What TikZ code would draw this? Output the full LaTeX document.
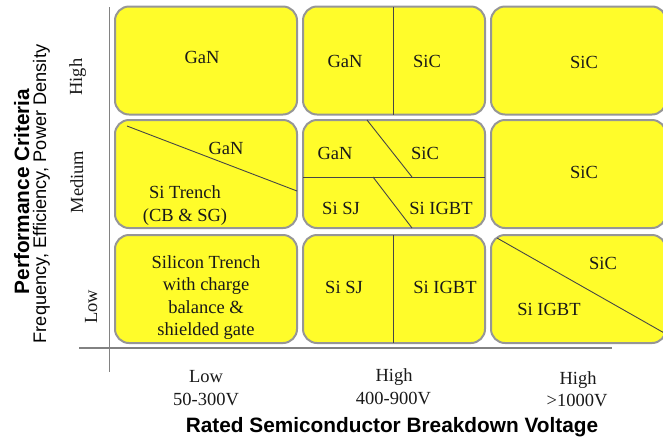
\documentclass[tikz,border=0pt]{standalone}
\usepackage{fontspec}
\setmainfont{Liberation Serif}
\newfontfamily\hv{Liberation Sans}
\definecolor{cellyellow}{RGB}{255,252,42}
\definecolor{cellborder}{RGB}{150,150,150}
\definecolor{divline}{RGB}{70,70,70}
\definecolor{axisline}{RGB}{130,130,130}
\begin{document}
\begin{tikzpicture}[x=1pt,y=-1pt,
  cell/.style={draw=cellborder,line width=2pt,fill=cellyellow,rounded corners=14pt,
    minimum width=182pt,minimum height=108pt,inner sep=0pt},
  divider/.style={draw=divline,line width=0.9pt},
  axis/.style={draw=axisline,line width=1.5pt},
  lbl/.style={font=\fontsize{18.5}{22.5}\selectfont,anchor=base,inner sep=0pt,text=black!90},
  mlbl/.style={lbl,align=center},
  rlbl/.style={lbl,rotate=90},
  title/.style={font=\hv\bfseries\fontsize{20.8}{24}\selectfont,anchor=base,inner sep=0pt},
  subtitle/.style={font=\hv\fontsize{18.2}{22}\selectfont,anchor=base,inner sep=0pt}]
\useasboundingbox (0,0) rectangle (663,440);
\clip (0,0) rectangle (663,440);
% cells
\node[cell] (b11) at (206,60.5) {};
\node[cell] (b12) at (394,60.5) {};
\node[cell,minimum width=175pt] (b13) at (578.5,60.5) {};
\node[cell] (b21) at (206,174) {};
\node[cell] (b22) at (394,174) {};
\node[cell,minimum width=175pt] (b23) at (578.5,174) {};
\node[cell] (b31) at (206,289) {};
\node[cell] (b32) at (394,289) {};
\node[cell,minimum width=175pt] (b33) at (578.5,289) {};
% dividers
\draw[divider] (393,6.5) -- (393,114.5);
\draw[divider] (127,126) -- (297,191);
\draw[divider] (303,177) -- (485,177);
\draw[divider] (367,120) -- (412,177);
\draw[divider] (373,177) -- (412,228);
\draw[divider] (393,235) -- (393,343);
\draw[divider] (497,238) -- (666,334);
% axes
\coordinate (vtop) at (109.5,7);
\coordinate (vbot) at (109.5,372);
\coordinate (hl) at (79,348);
\coordinate (hr) at (612,348);
\draw[axis] (vtop) -- (vbot);
\draw[axis] (hl) -- (hr);
% row 1 texts
\node[lbl] (t11) at (202,63) {GaN};
\node[lbl] (t12a) at (345,67) {GaN};
\node[lbl] (t12b) at (427,67) {SiC};
\node[lbl] (t13) at (584,68) {SiC};
% row 2 texts
\node[lbl] (t21a) at (226,154) {GaN};
\node[mlbl] (t21b) at (185,221) {Si Trench\\(CB \& SG)};
\node[lbl] (t22a) at (335,159) {GaN};
\node[lbl] (t22b) at (425,159) {SiC};
\node[lbl] (t22c) at (341,214) {Si SJ};
\node[lbl] (t22d) at (441,214) {Si IGBT};
\node[lbl] (t23) at (584,178) {SiC};
% row 3 texts
\node[mlbl] (t31) at (206,335.5) {Silicon Trench\\with charge\\balance \&\\shielded gate};
\node[lbl] (t32a) at (344,293) {Si SJ};
\node[lbl] (t32b) at (445,293) {Si IGBT};
\node[lbl] (t33a) at (603,269) {SiC};
\node[lbl] (t33b) at (549,315) {Si IGBT};
% row labels
\node[rlbl] (rh) at (82,77) {High};
\node[rlbl] (rm) at (83,182) {Medium};
\node[rlbl] (rl) at (97,307) {Low};
% column labels
\node[lbl] (cl1) at (206,382) {Low};
\node[lbl] (cl2) at (206,405) {50-300V};
\node[lbl] (cm1) at (394,381) {High};
\node[lbl] (cm2) at (393.5,404) {400-900V};
\node[lbl] (ch1) at (578,384) {High};
\node[lbl] (ch2) at (577,406) {>1000V};
% axis titles
\node[title] (xt) at (392,432) {Rated Semiconductor Breakdown Voltage};
\node[title,rotate=90] (yt) at (29,191.5) {Performance Criteria};
\node[subtitle,rotate=90] (ys) at (46,194) {Frequency, Efficiency, Power Density};
\end{tikzpicture}
\end{document}
